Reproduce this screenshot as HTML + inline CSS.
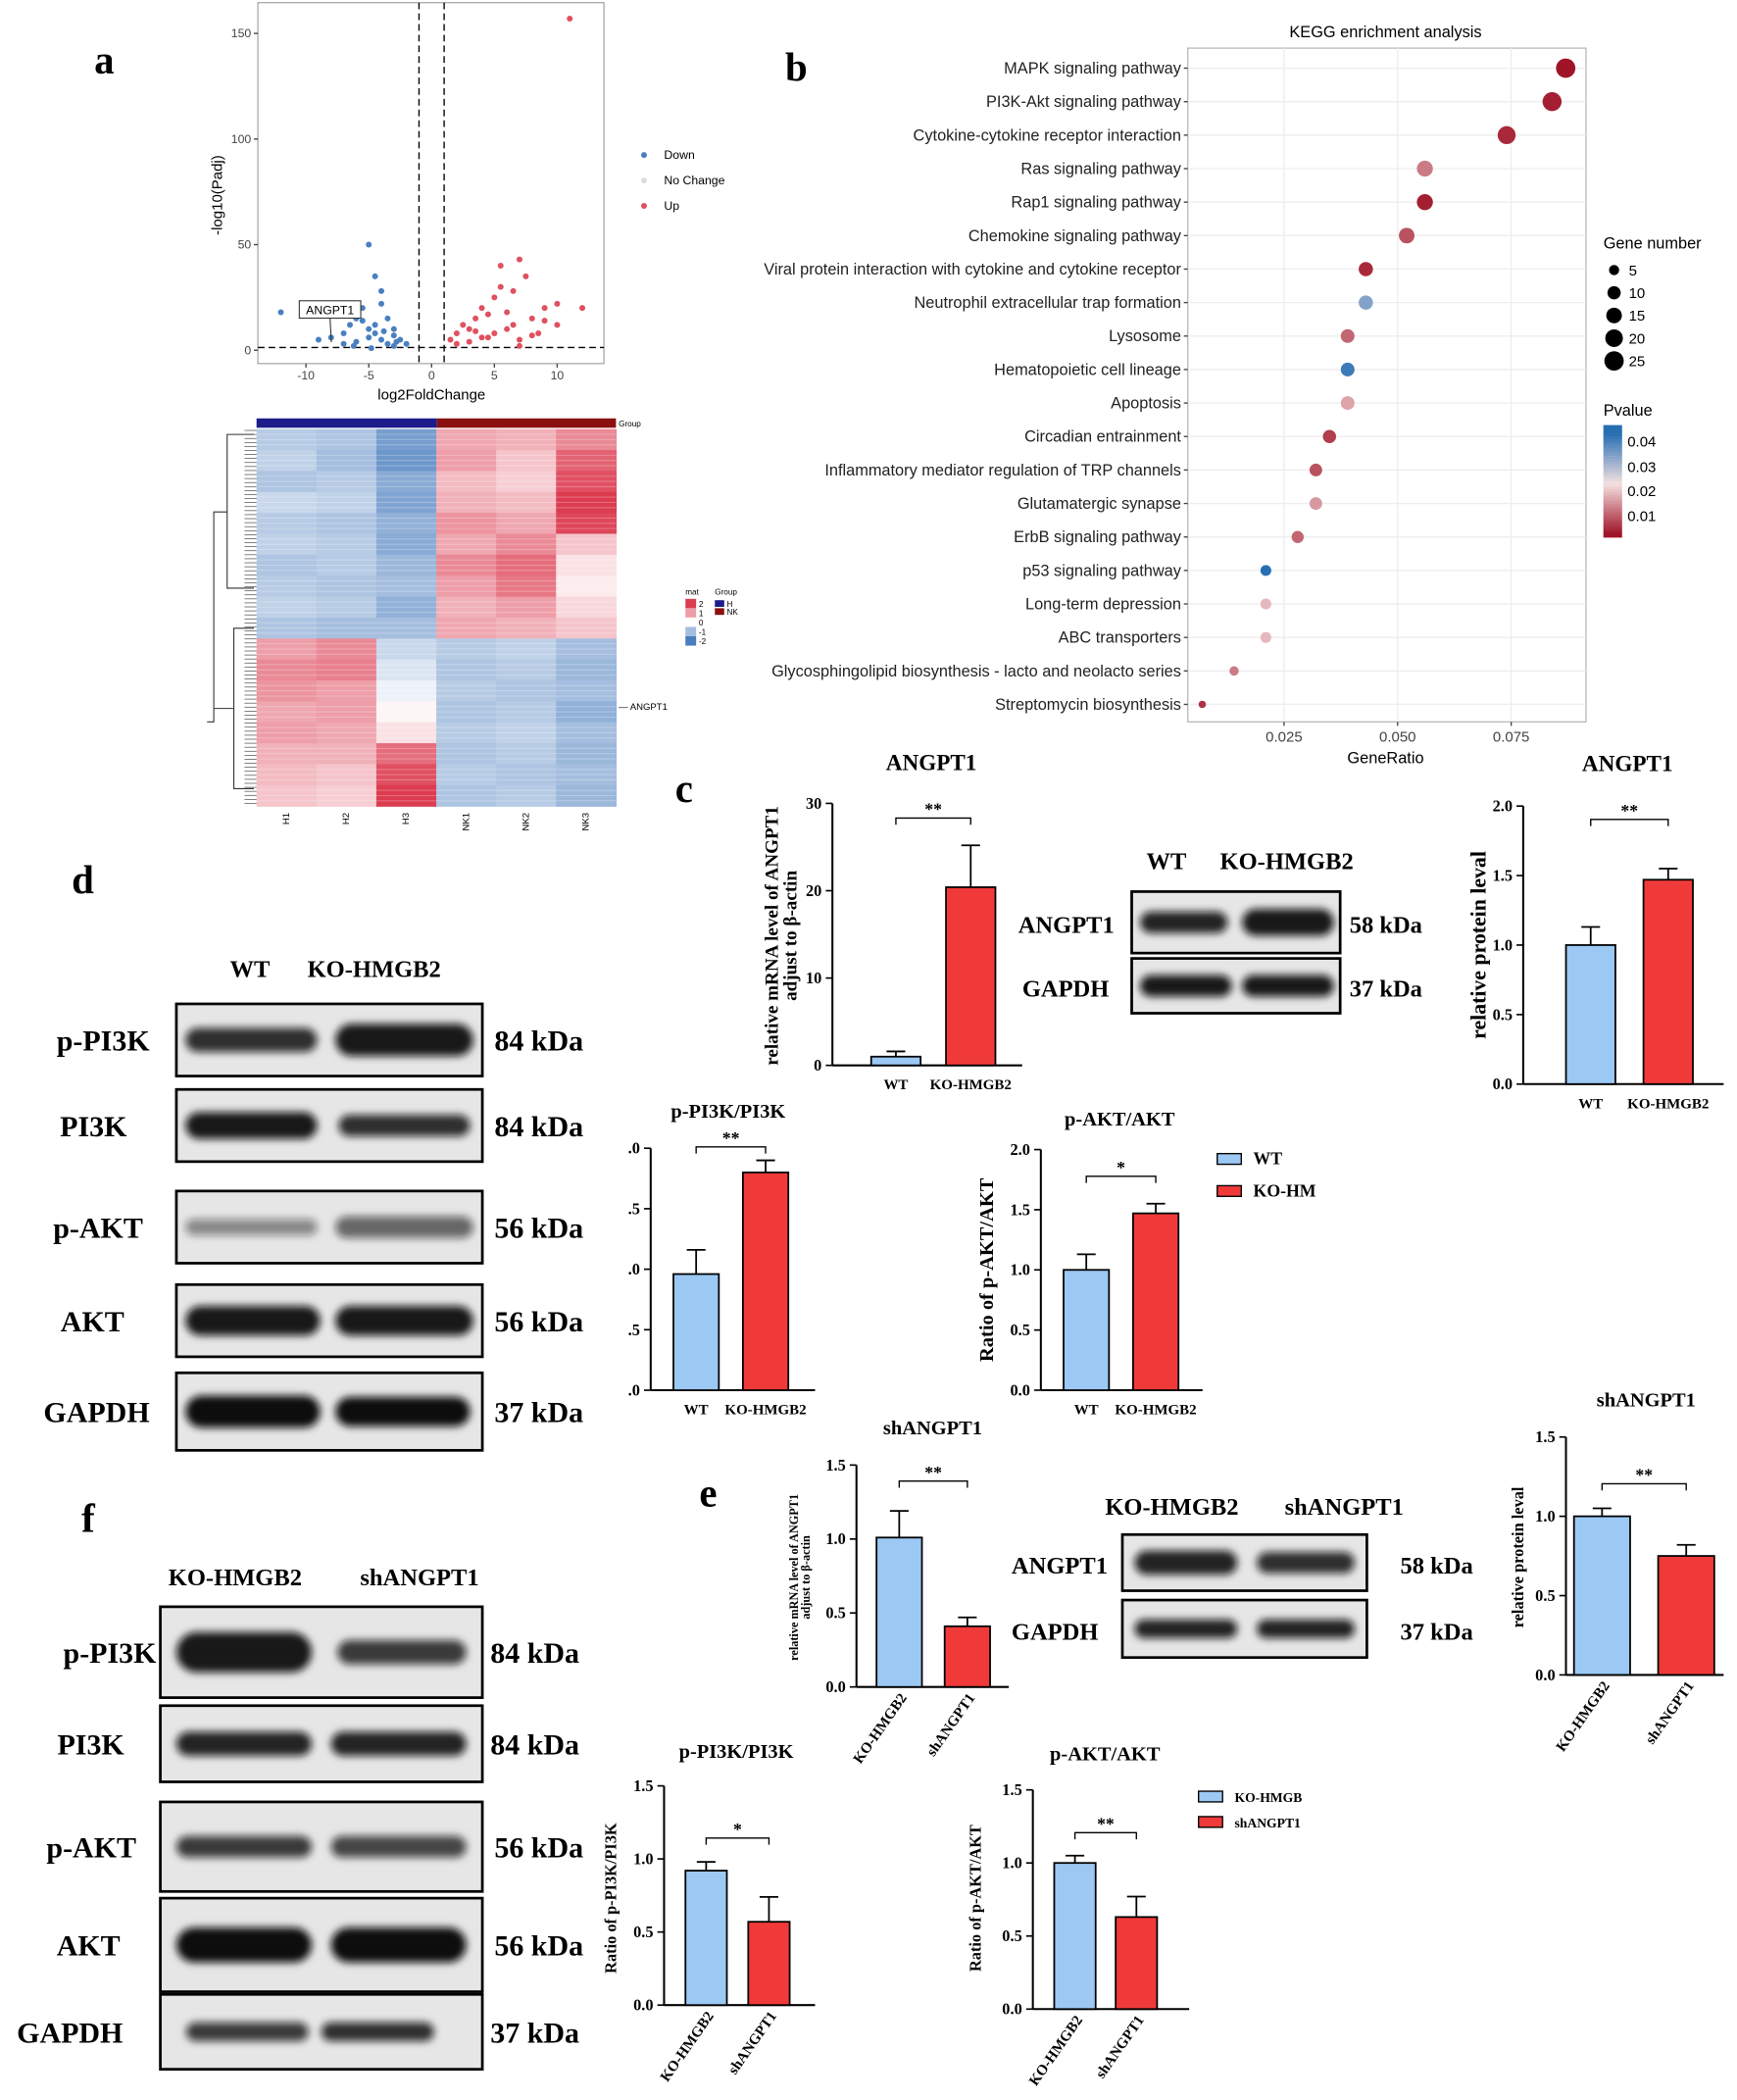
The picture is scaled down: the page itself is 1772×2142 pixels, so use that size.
<!DOCTYPE html>
<html><head><meta charset="utf-8">
<style>
html,body{margin:0;padding:0;background:#fff;}
svg{display:block;}
.sans{font-family:"Liberation Sans",sans-serif;}
.serif{font-family:"Liberation Serif",serif;font-weight:bold;}
</style></head>
<body>
<svg id="fig" xmlns="http://www.w3.org/2000/svg" width="1772" height="2142" viewBox="0 0 1300 1571" preserveAspectRatio="none">
<defs>
<filter id="blur" x="-20%" y="-50%" width="140%" height="200%"><feGaussianBlur stdDeviation="3"/></filter>
</defs>
</svg>
<script>
// ---------- data ----------
const volcDownX=[-12,-9,-8,-7,-6.5,-6,-5.5,-5,-5,-4.5,-4.5,-4,-4,-3.5,-3.5,-3,-3,-2.5,-2,-6,-5,-4,-3,-7,-5.5,-4.5,-3.8,-2.8,-6.2,-4.8];
const volcDownY=[18,5,6,8,12,15,20,50,10,35,8,28,5,15,3,10,2,5,3,4,6,22,7,3,14,12,9,4,2,1];
const volcUpX=[11,1.5,2,2.5,3,3.5,4,4.5,5,5.5,6,6.5,7,7.5,8,8.5,9,10,12,2,3,4,5,6,7,8,9,10,5.5,6.5,4.5,3.5,7];
const volcUpY=[157,5,8,12,10,15,20,6,25,30,18,12,43,35,15,8,20,22,20,3,4,6,8,10,5,7,14,12,40,28,17,9,2];
const volcXTicks=[-10,-5,0,5,10];
const volcYTicks=[0,50,100,150];

const heatCols=["H1","H2","H3","NK1","NK2","NK3"];
const heatRows=[
[-0.8,-0.9,-1.5,0.9,0.8,1.2],[-0.7,-1.0,-1.6,1.0,0.6,1.6],[-0.9,-0.8,-1.3,0.7,0.5,1.8],[-0.6,-0.7,-1.4,0.8,0.7,2.0],
[-0.8,-0.9,-1.2,1.1,0.9,1.9],[-0.7,-0.8,-1.3,0.9,1.2,0.6],[-0.9,-0.8,-1.1,1.2,1.5,0.3],[-0.8,-0.9,-1.0,1.0,1.4,0.2],
[-0.7,-0.8,-1.2,0.8,1.0,0.4],[-0.9,-1.0,-1.0,0.9,0.8,0.6],
[1.0,1.2,-0.6,-0.8,-0.7,-1.0],[1.2,1.3,-0.4,-0.9,-0.8,-1.1],[1.1,1.0,-0.2,-0.8,-0.9,-1.0],[0.9,1.0,0.1,-0.9,-0.8,-1.2],
[1.0,0.9,0.3,-0.8,-0.7,-1.0],[0.8,0.8,1.5,-0.9,-0.8,-1.1],[0.7,0.6,1.8,-0.8,-0.9,-1.0],[0.6,0.5,2.0,-0.9,-0.8,-1.1]];

const keggTerms=["MAPK signaling pathway","PI3K-Akt signaling pathway","Cytokine-cytokine receptor interaction","Ras signaling pathway","Rap1 signaling pathway","Chemokine signaling pathway","Viral protein interaction with cytokine and cytokine receptor","Neutrophil extracellular trap formation","Lysosome","Hematopoietic cell lineage","Apoptosis","Circadian entrainment","Inflammatory mediator regulation of TRP channels","Glutamatergic synapse","ErbB signaling pathway","p53 signaling pathway","Long-term depression","ABC transporters","Glycosphingolipid biosynthesis - lacto and neolacto series","Streptomycin biosynthesis"];
const keggRatio=[0.087,0.084,0.074,0.056,0.056,0.052,0.043,0.043,0.039,0.039,0.039,0.035,0.032,0.032,0.028,0.021,0.021,0.021,0.014,0.007];
const keggCount=[25,24,21,16,16,15,12,12,11,11,11,10,9,9,8,6,6,6,4,2];
const keggP=[0.002,0.003,0.004,0.012,0.003,0.008,0.004,0.033,0.010,0.040,0.016,0.006,0.008,0.015,0.010,0.042,0.018,0.018,0.012,0.005];
const keggXTicks=[0.025,0.050,0.075];

const groups1=["WT","KO-HMGB2"];
const groups2=["KO-HMGB2","shANGPT1"];
const cMrnaMean=[1.0,20.4], cMrnaErr=[0.6,4.8], cMrnaTicks=[0,10,20,30];
const cProtMean=[1.0,1.47], cProtErr=[0.13,0.08], cProtTicks=[0,0.5,1.0,1.5,2.0];
const dPi3kMean=[0.96,1.80], dPi3kErr=[0.2,0.1], dPi3kTicks=[0,0.5,1.0,1.5,2.0];
const dAktMean=[1.0,1.47], dAktErr=[0.13,0.08], dAktTicks=[0,0.5,1.0,1.5,2.0];
const eMrnaMean=[1.01,0.41], eMrnaErr=[0.18,0.06], eTicks=[0,0.5,1.0,1.5];
const eProtMean=[1.0,0.75], eProtErr=[0.05,0.07];
const fPi3kMean=[0.92,0.57], fPi3kErr=[0.06,0.17];
const fAktMean=[1.0,0.63], fAktErr=[0.05,0.14];

// ---------- helpers ----------
const NS="http://www.w3.org/2000/svg";
const svg=document.getElementById('fig');
function el(tag,attrs,parent,text){const e=document.createElementNS(NS,tag);for(const k in attrs)e.setAttribute(k,attrs[k]);if(text!==undefined)e.textContent=text;(parent||svg).appendChild(e);return e;}
function txt(x,y,s,size,cls,anchor,parent,extra){const t=el('text',Object.assign({x:x,y:y,'font-size':size,class:cls,'text-anchor':anchor||'start'},extra||{}),parent,s);return t;}
function lerp(a,b,t){return Math.round(a+(b-a)*t);}
function heatColor(v){const t=Math.max(-2,Math.min(2,v))/2;if(t<0){const u=-t;return `rgb(${lerp(255,74,u)},${lerp(255,125,u)},${lerp(255,190,u)})`;}return `rgb(${lerp(255,220,t)},${lerp(255,60,t)},${lerp(255,80,t)})`;}
function pColor(p){const t=(p-0.002)/0.04;const u=Math.max(0,Math.min(1,t));if(u<0.5){const s=u/0.5;return `rgb(${lerp(160,245,s)},${lerp(20,225,s)},${lerp(40,225,s)})`;}const s=(u-0.5)/0.5;return `rgb(${lerp(245,40,s)},${lerp(225,110,s)},${lerp(225,180,s)})`;}

// panel letters
[["a",78,55],["b",596,60],["c",512,600],["d",62,668],["e",530,1127],["f",66,1146]].forEach(L=>{
 const t=txt(L[1],L[2],L[0],30,'serif','middle');
 
 
});

// ---------- panel a volcano ----------
(function(){
 const g=el('g',{});
 
 
 const x0=193,x1=452,y0=2,y1=272;
 const xs=v=>323+v*9.4, ys=v=>262-v*1.58;
 el('rect',{x:x0,y:y0,width:x1-x0,height:y1-y0,fill:'#fff',stroke:'#999','stroke-width':0.8},g);
 el('line',{x1:xs(-1),x2:xs(-1),y1:y0,y2:y1,stroke:'#000','stroke-dasharray':'5,3'},g);
 el('line',{x1:xs(1),x2:xs(1),y1:y0,y2:y1,stroke:'#000','stroke-dasharray':'5,3'},g);
 el('line',{x1:x0,x2:x1,y1:ys(1.3),y2:ys(1.3),stroke:'#000','stroke-dasharray':'5,3'},g);
 volcXTicks.forEach(v=>{el('line',{x1:xs(v),x2:xs(v),y1:y1,y2:y1+3,stroke:'#444'},g);txt(xs(v),y1+12,String(v),9,'sans','middle',g,{fill:'#444'});});
 volcYTicks.forEach(v=>{el('line',{x1:x0-3,x2:x0,y1:ys(v),y2:ys(v),stroke:'#444'},g);txt(x0-5,ys(v)+3,String(v),9,'sans','end',g,{fill:'#444'});});
 volcDownX.forEach((v,i)=>{const c=el('circle',{cx:xs(v),cy:ys(volcDownY[i]),r:2.2,fill:'#4a7fc0'},g);});
 volcUpX.forEach((v,i)=>{const c=el('circle',{cx:xs(v),cy:ys(volcUpY[i]),r:2.2,fill:'#e0505f'},g);});
 el('rect',{x:224,y:225,width:46,height:13,fill:'#fff',stroke:'#333','stroke-width':0.8},g);
 txt(247,235,'ANGPT1',9,'sans','middle',g);
 el('line',{x1:247,y1:238,x2:248,y2:256,stroke:'#333','stroke-width':0.8},g);
 txt(323,299,'log2FoldChange',11,'sans','middle',g);
 txt(0,0,'-log10(Padj)',11,'sans','middle',g,{transform:'translate(166,146) rotate(-90)'});
 [['Down','#4a7fc0',119],['No Change','#ddd',138],['Up','#e0505f',157]].forEach(l=>{const c=el('circle',{cx:482,cy:l[2]-3,r:2.2,fill:l[1]},g);txt(497,l[2],l[0],9,'sans','start',g);});
})();

// ---------- heatmap ----------
(function(){
 const g=el('g',{});
 
 
 const x0=192,x1=461,y0=321,y1=603;
 const cw=(x1-x0)/heatCols.length, rh=(y1-y0)/heatRows.length;
 el('rect',{x:x0,y:313,width:135,height:7,fill:'#1c1c8a'},g);
 el('rect',{x:327,y:313,width:134,height:7,fill:'#8a1010'},g);
 txt(463,319,'Group',6,'sans','start',g);
 heatRows.forEach((row,i)=>row.forEach((v,j)=>{
   const r=el('rect',{x:x0+j*cw,y:y0+i*rh,width:cw+0.5,height:rh+0.5,fill:heatColor(v)},g);
   
   
   for(let k=1;k<4;k++){el('line',{x1:x0+j*cw,x2:x0+(j+1)*cw,y1:y0+i*rh+k*rh/4,y2:y0+i*rh+k*rh/4,stroke:'#fff','stroke-opacity':0.25,'stroke-width':0.8},g);}
 }));
 heatCols.forEach((c,j)=>txt(0,0,c,7,'sans','end',g,{transform:`translate(${x0+j*cw+cw/2+2},608) rotate(-90)`}));
 let d='M190 325 H170 V440 H190 M170 383 H160 V540 H155 M190 470 H175 V590 H190 M175 530 H160';
 el('path',{d:d,fill:'none',stroke:'#333','stroke-width':0.8},g);
 for(let y=322;y<603;y+=3){el('line',{x1:183,x2:192,y1:y,y2:y,stroke:'#444','stroke-width':0.5},g);}
 txt(463,531,'— ANGPT1',7,'sans','start',g);
 txt(513,445,'mat',6,'sans','start',g);txt(535,445,'Group',6,'sans','start',g);
 [2,1,0,-1,-2].forEach((v,i)=>{el('rect',{x:513,y:448+i*7,width:8,height:7,fill:heatColor(v)},g);txt(523,454+i*7,String(v),6,'sans','start',g);});
 el('rect',{x:535,y:449,width:7,height:5,fill:'#1c1c8a'},g);txt(544,454,'H',6,'sans','start',g);
 el('rect',{x:535,y:455,width:7,height:5,fill:'#8a1010'},g);txt(544,460,'NK',6,'sans','start',g);
})();

// ---------- panel b KEGG ----------
(function(){
 const g=el('g',{});
 
 
 const x0=889,x1=1187,y0=36,y1=540;
 const xs=v=>961+(v-0.025)*3400, ys=i=>51+i*25.05;
 el('rect',{x:x0,y:y0,width:x1-x0,height:y1-y0,fill:'#fff',stroke:'#aaa','stroke-width':0.8},g);
 keggXTicks.forEach(v=>{el('line',{x1:xs(v),x2:xs(v),y1:y0,y2:y1,stroke:'#eee'},g);el('line',{x1:xs(v),x2:xs(v),y1:y1,y2:y1+3,stroke:'#444'},g);txt(xs(v),y1+15,v.toFixed(3),11,'sans','middle',g,{fill:'#444'});});
 keggTerms.forEach((t,i)=>{el('line',{x1:x0,x2:x1,y1:ys(i),y2:ys(i),stroke:'#eee'},g);el('line',{x1:x0-3,x2:x0,y1:ys(i),y2:ys(i),stroke:'#444'},g);txt(x0-5,ys(i)+4,t,12,'sans','end',g,{fill:'#222'});
  const c=el('circle',{cx:xs(keggRatio[i]),cy:ys(i),r:1+Math.sqrt(keggCount[i])*1.25,fill:pColor(keggP[i])},g);
  
  
 });
 txt(1037,28,'KEGG enrichment analysis',12,'sans','middle',g);
 txt(1037,571,'GeneRatio',12,'sans','middle',g);
 txt(1200,186,'Gene number',12,'sans','start',g);
 [5,10,15,20,25].forEach((n,i)=>{el('circle',{cx:1208,cy:202+i*17,r:1+Math.sqrt(n)*1.25,fill:'#000'},g);txt(1219,206+i*17,String(n),11,'sans','start',g);});
 txt(1200,311,'Pvalue',12,'sans','start',g);
 for(let k=0;k<40;k++){const p=0.045-k*0.045/40;el('rect',{x:1200,y:318+k*2.1,width:14,height:2.3,fill:pColor(p)},g);}
 [[0.04,330],[0.03,349],[0.02,367],[0.01,386]].forEach(a=>txt(1218,a[1]+4,a[0].toFixed(2),11,'sans','start',g));
})();

// ---------- bar chart helper ----------
function barChart(name,opt,means,errs,ticks,groups){
 const g=el('g',{});
 
 
 const maxT=ticks[ticks.length-1];
 const ys=v=>opt.yb-(v/maxT)*(opt.yb-opt.yt);
 el('line',{x1:opt.ax,x2:opt.ax,y1:opt.yt,y2:opt.yb,stroke:'#000','stroke-width':1.5},g);
 el('line',{x1:opt.ax,x2:opt.xe,y1:opt.yb,y2:opt.yb,stroke:'#000','stroke-width':1.5},g);
 ticks.forEach(v=>{el('line',{x1:opt.ax-5,x2:opt.ax,y1:ys(v),y2:ys(v),stroke:'#000','stroke-width':1.2},g);
  let s=opt.dec?v.toFixed(1):String(v); if(opt.cut) s=s.slice(1);
  txt(opt.ax-8,ys(v)+4,s,opt.fs||12,'serif','end',g);});
 const cols=['#9cc8f4','#f03a3a'];
 means.forEach((m,i)=>{
  const bx=opt.bx[i];
  el('line',{x1:bx+opt.bw/2,x2:bx+opt.bw/2,y1:ys(m),y2:ys(m+errs[i]),stroke:'#000','stroke-width':1.3},g);
  el('line',{x1:bx+opt.bw/2-7,x2:bx+opt.bw/2+7,y1:ys(m+errs[i]),y2:ys(m+errs[i]),stroke:'#000','stroke-width':1.3},g);
  const r=el('rect',{x:bx,y:ys(m),width:opt.bw,height:opt.yb-ys(m),fill:cols[i],stroke:'#000','stroke-width':1.3},g);
  
  
  if(opt.rot) txt(0,0,groups[i],opt.lfs||11,'serif','end',g,{transform:`translate(${bx+opt.bw/2+6},${opt.yb+8}) rotate(-55)`});
  else txt(bx+opt.bw/2,opt.yb+18,groups[i],opt.lfs||11,'serif','middle',g);
 });
 const sy=opt.sigY, c1=opt.bx[0]+opt.bw/2, c2=opt.bx[1]+opt.bw/2;
 el('path',{d:`M${c1} ${sy+5} V${sy} H${c2} V${sy+5}`,fill:'none',stroke:'#000','stroke-width':1},g);
 txt((c1+c2)/2,sy-2,opt.sig,13,'serif','middle',g);
 if(opt.title) txt(opt.tx,opt.ty,opt.title,opt.tfs||16,'serif','middle',g);
 if(opt.ylab){const yl=opt.ylab.split('\n');yl.forEach((l,k)=>txt(0,0,l,opt.yfs||14,'serif','middle',g,{transform:`translate(${opt.ylx+k*(opt.yfs||14)+2},${opt.yly}) rotate(-90)`}));}
 return g;
}

barChart('mrna-angpt1-chart',{ax:623,xe:765,yt:601,yb:797,bx:[652,708],bw:37,sigY:612,sig:'**',title:'ANGPT1',tx:697,ty:576,tfs:17,ylab:'relative mRNA level of ANGPT1\nadjust to β-actin',ylx:580,yly:700,yfs:14},cMrnaMean,cMrnaErr,cMrnaTicks,groups1);
barChart('protein-angpt1-chart',{ax:1140,xe:1290,yt:603,yb:811,bx:[1172,1230],bw:37,sigY:613,sig:'**',title:'ANGPT1',tx:1218,ty:577,tfs:17,dec:true,ylab:'relative protein leval',ylx:1110,yly:707,yfs:16},cProtMean,cProtErr,cProtTicks,groups1);
barChart('d-pi3k-chart',{ax:487,xe:610,yt:859,yb:1040,bx:[504,556],bw:34,sigY:858,sig:'**',title:'p-PI3K/PI3K',tx:545,ty:836,tfs:15,dec:true,cut:true},dPi3kMean,dPi3kErr,dPi3kTicks,groups1);
barChart('d-akt-chart',{ax:779,xe:900,yt:860,yb:1040,bx:[796,848],bw:34,sigY:880,sig:'*',title:'p-AKT/AKT',tx:838,ty:842,tfs:15,dec:true,ylab:'Ratio of p-AKT/AKT',ylx:741,yly:950,yfs:15},dAktMean,dAktErr,dAktTicks,groups1);
barChart('e-mrna-chart',{ax:641,xe:755,yt:1096,yb:1262,bx:[656,707],bw:34,sigY:1108,sig:'**',title:'shANGPT1',tx:698,ty:1073,tfs:15,dec:true,rot:true,ylab:'relative mRNA level of ANGPT1\nadjust to β-actin',ylx:595,yly:1180,yfs:9},eMrnaMean,eMrnaErr,eTicks,groups2);
barChart('e-protein-chart',{ax:1172,xe:1290,yt:1075,yb:1253,bx:[1178,1241],bw:42,sigY:1110,sig:'**',title:'shANGPT1',tx:1232,ty:1052,tfs:15,dec:true,rot:true,ylab:'relative protein leval',ylx:1138,yly:1165,yfs:12},eProtMean,eProtErr,eTicks,groups2);
barChart('f-pi3k-chart',{ax:497,xe:610,yt:1336,yb:1500,bx:[513,560],bw:31,sigY:1375,sig:'*',title:'p-PI3K/PI3K',tx:551,ty:1315,tfs:15,dec:true,rot:true,ylab:'Ratio of p-PI3K/PI3K',ylx:459,yly:1420,yfs:12},fPi3kMean,fPi3kErr,eTicks,groups2);
barChart('f-akt-chart',{ax:773,xe:890,yt:1339,yb:1503,bx:[789,835],bw:31,sigY:1371,sig:'**',title:'p-AKT/AKT',tx:827,ty:1317,tfs:15,dec:true,rot:true,ylab:'Ratio of p-AKT/AKT',ylx:732,yly:1420,yfs:12},fAktMean,fAktErr,eTicks,groups2);

// legends
[[911,871,'WT','KO-HM',895,'d'],[897,1348,'KO-HMGB','shANGPT1',1367,'f']].forEach(L=>{
 const g=el('g',{});
 
 
 el('rect',{x:L[0],y:L[1]-8,width:18,height:8,fill:'#9cc8f4',stroke:'#000'},g);txt(L[0]+27,L[1],L[2],L[5]=='d'?13:10,'serif','start',g);
 el('rect',{x:L[0],y:L[4]-8,width:18,height:8,fill:'#f03a3a',stroke:'#000'},g);txt(L[0]+27,L[4],L[3],L[5]=='d'?13:10,'serif','start',g);
});

// ---------- western blots ----------
function blot(name,x,y,w,h,bands,label,kda,lx,kx,lfs){
 const g=el('g',{});
 
 
 el('rect',{x:x,y:y,width:w,height:h,fill:'#e6e6e6',stroke:'#000','stroke-width':2},g);
 bands.forEach(b=>el('rect',{x:x+b[0]*w,y:y+h/2-b[2]/2,width:b[1]*w,height:b[2],rx:b[2]/2,fill:'#111','fill-opacity':b[3],filter:'url(#blur)'},g));
 txt(lx,y+h/2+8,label,lfs||22,'serif','end',g);
 txt(kx,y+h/2+8,kda,lfs||22,'serif','start',g);
}
blot('blot-c-angpt1',847,667,156,46,[[0.04,0.42,16,0.9],[0.53,0.44,20,0.95]],'ANGPT1','58 kDa',834,1010,18);
blot('blot-c-gapdh',847,717,156,41,[[0.04,0.44,16,0.95],[0.53,0.44,16,0.95]],'GAPDH','37 kDa',830,1010,18);
txt(873,650,'WT',18,'serif','middle');txt(963,650,'KO-HMGB2',18,'serif','middle');
txt(187,731,'WT',18,'serif','middle');txt(280,731,'KO-HMGB2',18,'serif','middle');
blot('blot-d-ppi3k',132,751,229,54,[[0.03,0.43,18,0.85],[0.52,0.45,24,0.95]],'p-PI3K','84 kDa',112,370);
blot('blot-d-pi3k',132,815,229,54,[[0.03,0.43,20,0.95],[0.53,0.43,16,0.85]],'PI3K','84 kDa',95,370);
blot('blot-d-pakt',132,891,229,54,[[0.03,0.43,12,0.45],[0.52,0.45,16,0.6]],'p-AKT','56 kDa',107,370);
blot('blot-d-akt',132,961,229,54,[[0.03,0.44,22,0.95],[0.52,0.45,22,0.95]],'AKT','56 kDa',93,370);
blot('blot-d-gapdh',132,1027,229,58,[[0.03,0.44,24,1],[0.52,0.44,22,1]],'GAPDH','37 kDa',112,370);
txt(877,1133,'KO-HMGB2',18,'serif','middle');txt(1006,1133,'shANGPT1',18,'serif','middle');
blot('blot-e-angpt1',840,1148,183,42,[[0.05,0.42,18,0.9],[0.55,0.4,16,0.85]],'ANGPT1','58 kDa',829,1048,18);
blot('blot-e-gapdh',840,1197,183,43,[[0.05,0.42,14,0.9],[0.55,0.4,14,0.9]],'GAPDH','37 kDa',822,1048,18);
txt(176,1186,'KO-HMGB2',18,'serif','middle');txt(314,1186,'shANGPT1',18,'serif','middle');
blot('blot-f-ppi3k',120,1202,241,68,[[0.05,0.42,30,0.95],[0.55,0.4,18,0.8]],'p-PI3K','84 kDa',117,367);
blot('blot-f-pi3k',120,1276,241,57,[[0.05,0.42,18,0.9],[0.53,0.42,18,0.9]],'PI3K','84 kDa',93,367);
blot('blot-f-pakt',120,1348,241,67,[[0.05,0.42,16,0.8],[0.53,0.42,16,0.75]],'p-AKT','56 kDa',102,370);
blot('blot-f-akt',120,1420,241,70,[[0.05,0.42,26,1],[0.53,0.42,26,1]],'AKT','56 kDa',90,370);
blot('blot-f-gapdh',120,1492,241,56,[[0.08,0.38,14,0.8],[0.5,0.35,14,0.85]],'GAPDH','37 kDa',92,367);
</script>
</body></html>
